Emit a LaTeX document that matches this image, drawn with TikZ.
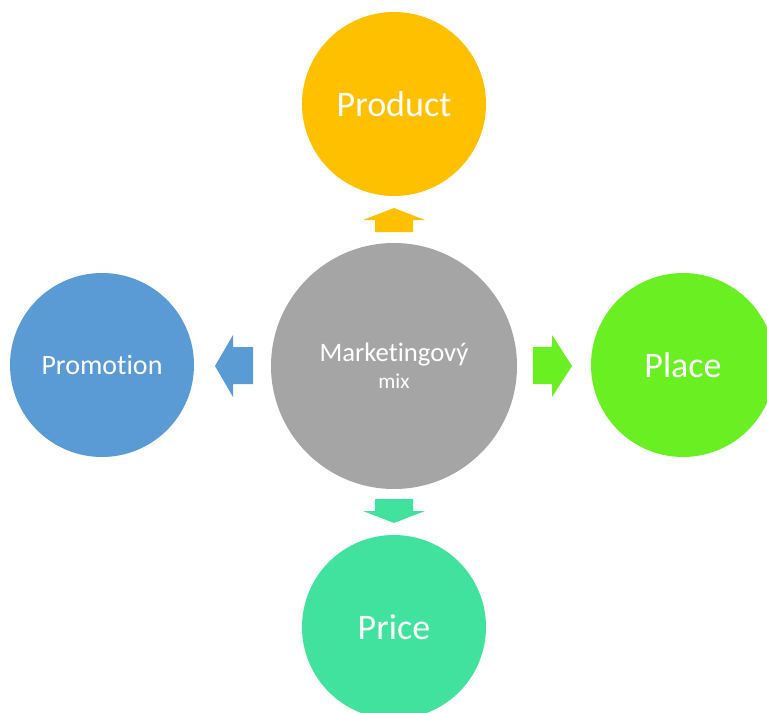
\documentclass[tikz,border=0pt]{standalone}
\usepackage{fontspec}
\setmainfont{Carlito}[Ligatures=NoCommon]
\usepackage{xcolor}
\usepackage{tikz}

\definecolor{mixgray}{HTML}{A5A5A5}
\definecolor{prodgold}{HTML}{FFC000}
\definecolor{promoblue}{HTML}{5B9BD5}
\definecolor{placegreen}{HTML}{6AEF23}
\definecolor{pricegreen}{HTML}{41E29D}

\begin{document}
\begin{tikzpicture}[
  x=0.75pt, y=-0.75pt,
  every node/.style={circle, inner sep=0pt, text=white, align=center},
  big/.style={minimum size=184.5pt},
  small/.style={minimum size=138pt}
]
\useasboundingbox (0,0) rectangle (767,713);

% circles
\node[big, fill=mixgray, font=\fontsize{20}{20}\selectfont] (mix) at (394,366)
  {Marketingový\\[0pt]{\fontsize{16}{20}\selectfont mix}};
\node[small, fill=prodgold, font=\fontsize{27}{32}\selectfont] (product) at (394,104) {Product};
\node[small, fill=promoblue, font=\fontsize{21}{25}\selectfont] (promotion) at (102,365) {Promotion};
\node[small, fill=placegreen, font=\fontsize{27}{32}\selectfont] (place) at (683,365) {Place};
\node[small, fill=pricegreen, font=\fontsize{27}{32}\selectfont] (price) at (394,627) {Price};

% arrows
\fill[prodgold] (375,232) -- (375,220) -- (363,220) -- (394,208) -- (425,220) -- (413,220) -- (413,232) -- cycle;
\fill[promoblue] (253,347) -- (233,347) -- (233,335) -- (215,366) -- (233,397) -- (233,384) -- (253,384) -- cycle;
\fill[placegreen] (533,347) -- (552,347) -- (552,335) -- (572,366) -- (552,397) -- (552,384) -- (533,384) -- cycle;
\fill[pricegreen] (375,499) -- (375,511) -- (363,511) -- (394,523) -- (425,511) -- (413,511) -- (413,499) -- cycle;
\end{tikzpicture}
\end{document}
